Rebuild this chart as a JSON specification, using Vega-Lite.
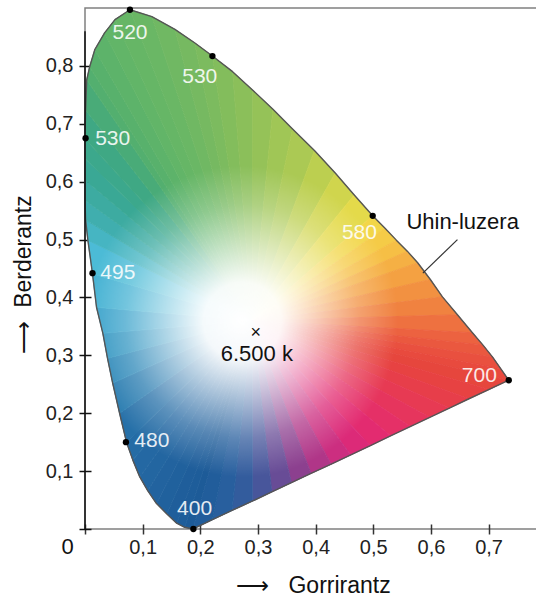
{
  "$schema": "https://vega.github.io/schema/vega-lite/v6.json",
  "autosize": {"type": "none"},
  "padding": {"left": 85, "top": 8, "right": 0, "bottom": 67},
  "width": 452,
  "height": 521,
  "config": {
    "view": {"stroke": "#808080", "strokeWidth": 1.5},
    "axis": {"labelFont": "Liberation Sans", "titleFont": "Liberation Sans", "labelColor": "#222", "titleColor": "#111", "titleFontWeight": "normal", "grid": false, "domain": false},
    "text": {"font": "Liberation Sans"}
  },
  "datasets": {
    "loc": [
      {"i":0,"x":0.187,"y":0.000},{"i":1,"x":0.173,"y":0.003},{"i":2,"x":0.159,"y":0.010},{"i":3,"x":0.142,"y":0.026},
      {"i":4,"x":0.124,"y":0.044},{"i":5,"x":0.109,"y":0.066},{"i":6,"x":0.095,"y":0.090},{"i":7,"x":0.083,"y":0.119},
      {"i":8,"x":0.072,"y":0.150},{"i":9,"x":0.060,"y":0.200},{"i":10,"x":0.048,"y":0.252},{"i":11,"x":0.039,"y":0.295},
      {"i":12,"x":0.031,"y":0.338},{"i":13,"x":0.020,"y":0.383},{"i":14,"x":0.013,"y":0.441},{"i":15,"x":0.005,"y":0.499},
      {"i":16,"x":0.001,"y":0.534},{"i":17,"x":0.000,"y":0.568},{"i":18,"x":0.000,"y":0.603},{"i":19,"x":0.000,"y":0.640},
      {"i":20,"x":0.000,"y":0.674},{"i":21,"x":0.001,"y":0.724},{"i":22,"x":0.003,"y":0.776},{"i":23,"x":0.008,"y":0.798},
      {"i":24,"x":0.017,"y":0.828},{"i":25,"x":0.034,"y":0.857},{"i":26,"x":0.052,"y":0.880},{"i":27,"x":0.078,"y":0.897},
      {"i":28,"x":0.116,"y":0.885},{"i":29,"x":0.156,"y":0.863},{"i":30,"x":0.190,"y":0.840},{"i":31,"x":0.221,"y":0.817},
      {"i":32,"x":0.256,"y":0.790},{"i":33,"x":0.291,"y":0.758},{"i":34,"x":0.326,"y":0.725},{"i":35,"x":0.360,"y":0.691},
      {"i":36,"x":0.398,"y":0.654},{"i":37,"x":0.434,"y":0.615},{"i":38,"x":0.467,"y":0.577},{"i":39,"x":0.499,"y":0.541},
      {"i":40,"x":0.520,"y":0.520},{"i":41,"x":0.540,"y":0.499},{"i":42,"x":0.559,"y":0.480},{"i":43,"x":0.577,"y":0.460},
      {"i":44,"x":0.599,"y":0.431},{"i":45,"x":0.620,"y":0.401},{"i":46,"x":0.646,"y":0.370},{"i":47,"x":0.672,"y":0.339},
      {"i":48,"x":0.690,"y":0.318},{"i":49,"x":0.707,"y":0.297},{"i":50,"x":0.721,"y":0.277},{"i":51,"x":0.735,"y":0.257},
      {"i":52,"x":0.701,"y":0.241},{"i":53,"x":0.666,"y":0.225},{"i":54,"x":0.632,"y":0.209},{"i":55,"x":0.598,"y":0.193},
      {"i":56,"x":0.564,"y":0.177},{"i":57,"x":0.530,"y":0.161},{"i":58,"x":0.495,"y":0.144},{"i":59,"x":0.461,"y":0.128},
      {"i":60,"x":0.427,"y":0.112},{"i":61,"x":0.392,"y":0.096},{"i":62,"x":0.358,"y":0.080},{"i":63,"x":0.324,"y":0.064},
      {"i":64,"x":0.290,"y":0.048},{"i":65,"x":0.255,"y":0.032},{"i":66,"x":0.221,"y":0.016},{"i":67,"x":0.187,"y":0.000}
    ],
    "sec": [
      {"s":0,"i":0,"x":0.29,"y":0.36},{"s":0,"i":1,"x":0.187,"y":0.000},{"s":0,"i":2,"x":0.173,"y":0.003},
      {"s":1,"i":0,"x":0.29,"y":0.36},{"s":1,"i":1,"x":0.173,"y":0.003},{"s":1,"i":2,"x":0.159,"y":0.010},
      {"s":2,"i":0,"x":0.29,"y":0.36},{"s":2,"i":1,"x":0.159,"y":0.010},{"s":2,"i":2,"x":0.142,"y":0.026},
      {"s":3,"i":0,"x":0.29,"y":0.36},{"s":3,"i":1,"x":0.142,"y":0.026},{"s":3,"i":2,"x":0.124,"y":0.044},
      {"s":4,"i":0,"x":0.29,"y":0.36},{"s":4,"i":1,"x":0.124,"y":0.044},{"s":4,"i":2,"x":0.109,"y":0.066},
      {"s":5,"i":0,"x":0.29,"y":0.36},{"s":5,"i":1,"x":0.109,"y":0.066},{"s":5,"i":2,"x":0.095,"y":0.090},
      {"s":6,"i":0,"x":0.29,"y":0.36},{"s":6,"i":1,"x":0.095,"y":0.090},{"s":6,"i":2,"x":0.083,"y":0.119},
      {"s":7,"i":0,"x":0.29,"y":0.36},{"s":7,"i":1,"x":0.083,"y":0.119},{"s":7,"i":2,"x":0.072,"y":0.150},
      {"s":8,"i":0,"x":0.29,"y":0.36},{"s":8,"i":1,"x":0.072,"y":0.150},{"s":8,"i":2,"x":0.060,"y":0.200},
      {"s":9,"i":0,"x":0.29,"y":0.36},{"s":9,"i":1,"x":0.060,"y":0.200},{"s":9,"i":2,"x":0.048,"y":0.252},
      {"s":10,"i":0,"x":0.29,"y":0.36},{"s":10,"i":1,"x":0.048,"y":0.252},{"s":10,"i":2,"x":0.039,"y":0.295},
      {"s":11,"i":0,"x":0.29,"y":0.36},{"s":11,"i":1,"x":0.039,"y":0.295},{"s":11,"i":2,"x":0.031,"y":0.338},
      {"s":12,"i":0,"x":0.29,"y":0.36},{"s":12,"i":1,"x":0.031,"y":0.338},{"s":12,"i":2,"x":0.020,"y":0.383},
      {"s":13,"i":0,"x":0.29,"y":0.36},{"s":13,"i":1,"x":0.020,"y":0.383},{"s":13,"i":2,"x":0.013,"y":0.441},
      {"s":14,"i":0,"x":0.29,"y":0.36},{"s":14,"i":1,"x":0.013,"y":0.441},{"s":14,"i":2,"x":0.005,"y":0.499},
      {"s":15,"i":0,"x":0.29,"y":0.36},{"s":15,"i":1,"x":0.005,"y":0.499},{"s":15,"i":2,"x":0.001,"y":0.534},
      {"s":16,"i":0,"x":0.29,"y":0.36},{"s":16,"i":1,"x":0.001,"y":0.534},{"s":16,"i":2,"x":0.000,"y":0.568},
      {"s":17,"i":0,"x":0.29,"y":0.36},{"s":17,"i":1,"x":0.000,"y":0.568},{"s":17,"i":2,"x":0.000,"y":0.603},
      {"s":18,"i":0,"x":0.29,"y":0.36},{"s":18,"i":1,"x":0.000,"y":0.603},{"s":18,"i":2,"x":0.000,"y":0.640},
      {"s":19,"i":0,"x":0.29,"y":0.36},{"s":19,"i":1,"x":0.000,"y":0.640},{"s":19,"i":2,"x":0.000,"y":0.674},
      {"s":20,"i":0,"x":0.29,"y":0.36},{"s":20,"i":1,"x":0.000,"y":0.674},{"s":20,"i":2,"x":0.001,"y":0.724},
      {"s":21,"i":0,"x":0.29,"y":0.36},{"s":21,"i":1,"x":0.001,"y":0.724},{"s":21,"i":2,"x":0.003,"y":0.776},
      {"s":22,"i":0,"x":0.29,"y":0.36},{"s":22,"i":1,"x":0.003,"y":0.776},{"s":22,"i":2,"x":0.008,"y":0.798},
      {"s":23,"i":0,"x":0.29,"y":0.36},{"s":23,"i":1,"x":0.008,"y":0.798},{"s":23,"i":2,"x":0.017,"y":0.828},
      {"s":24,"i":0,"x":0.29,"y":0.36},{"s":24,"i":1,"x":0.017,"y":0.828},{"s":24,"i":2,"x":0.034,"y":0.857},
      {"s":25,"i":0,"x":0.29,"y":0.36},{"s":25,"i":1,"x":0.034,"y":0.857},{"s":25,"i":2,"x":0.052,"y":0.880},
      {"s":26,"i":0,"x":0.29,"y":0.36},{"s":26,"i":1,"x":0.052,"y":0.880},{"s":26,"i":2,"x":0.078,"y":0.897},
      {"s":27,"i":0,"x":0.29,"y":0.36},{"s":27,"i":1,"x":0.078,"y":0.897},{"s":27,"i":2,"x":0.116,"y":0.885},
      {"s":28,"i":0,"x":0.29,"y":0.36},{"s":28,"i":1,"x":0.116,"y":0.885},{"s":28,"i":2,"x":0.156,"y":0.863},
      {"s":29,"i":0,"x":0.29,"y":0.36},{"s":29,"i":1,"x":0.156,"y":0.863},{"s":29,"i":2,"x":0.190,"y":0.840},
      {"s":30,"i":0,"x":0.29,"y":0.36},{"s":30,"i":1,"x":0.190,"y":0.840},{"s":30,"i":2,"x":0.221,"y":0.817},
      {"s":31,"i":0,"x":0.29,"y":0.36},{"s":31,"i":1,"x":0.221,"y":0.817},{"s":31,"i":2,"x":0.256,"y":0.790},
      {"s":32,"i":0,"x":0.29,"y":0.36},{"s":32,"i":1,"x":0.256,"y":0.790},{"s":32,"i":2,"x":0.291,"y":0.758},
      {"s":33,"i":0,"x":0.29,"y":0.36},{"s":33,"i":1,"x":0.291,"y":0.758},{"s":33,"i":2,"x":0.326,"y":0.725},
      {"s":34,"i":0,"x":0.29,"y":0.36},{"s":34,"i":1,"x":0.326,"y":0.725},{"s":34,"i":2,"x":0.360,"y":0.691},
      {"s":35,"i":0,"x":0.29,"y":0.36},{"s":35,"i":1,"x":0.360,"y":0.691},{"s":35,"i":2,"x":0.398,"y":0.654},
      {"s":36,"i":0,"x":0.29,"y":0.36},{"s":36,"i":1,"x":0.398,"y":0.654},{"s":36,"i":2,"x":0.434,"y":0.615},
      {"s":37,"i":0,"x":0.29,"y":0.36},{"s":37,"i":1,"x":0.434,"y":0.615},{"s":37,"i":2,"x":0.467,"y":0.577},
      {"s":38,"i":0,"x":0.29,"y":0.36},{"s":38,"i":1,"x":0.467,"y":0.577},{"s":38,"i":2,"x":0.499,"y":0.541},
      {"s":39,"i":0,"x":0.29,"y":0.36},{"s":39,"i":1,"x":0.499,"y":0.541},{"s":39,"i":2,"x":0.520,"y":0.520},
      {"s":40,"i":0,"x":0.29,"y":0.36},{"s":40,"i":1,"x":0.520,"y":0.520},{"s":40,"i":2,"x":0.540,"y":0.499},
      {"s":41,"i":0,"x":0.29,"y":0.36},{"s":41,"i":1,"x":0.540,"y":0.499},{"s":41,"i":2,"x":0.559,"y":0.480},
      {"s":42,"i":0,"x":0.29,"y":0.36},{"s":42,"i":1,"x":0.559,"y":0.480},{"s":42,"i":2,"x":0.577,"y":0.460},
      {"s":43,"i":0,"x":0.29,"y":0.36},{"s":43,"i":1,"x":0.577,"y":0.460},{"s":43,"i":2,"x":0.599,"y":0.431},
      {"s":44,"i":0,"x":0.29,"y":0.36},{"s":44,"i":1,"x":0.599,"y":0.431},{"s":44,"i":2,"x":0.620,"y":0.401},
      {"s":45,"i":0,"x":0.29,"y":0.36},{"s":45,"i":1,"x":0.620,"y":0.401},{"s":45,"i":2,"x":0.646,"y":0.370},
      {"s":46,"i":0,"x":0.29,"y":0.36},{"s":46,"i":1,"x":0.646,"y":0.370},{"s":46,"i":2,"x":0.672,"y":0.339},
      {"s":47,"i":0,"x":0.29,"y":0.36},{"s":47,"i":1,"x":0.672,"y":0.339},{"s":47,"i":2,"x":0.690,"y":0.318},
      {"s":48,"i":0,"x":0.29,"y":0.36},{"s":48,"i":1,"x":0.690,"y":0.318},{"s":48,"i":2,"x":0.707,"y":0.297},
      {"s":49,"i":0,"x":0.29,"y":0.36},{"s":49,"i":1,"x":0.707,"y":0.297},{"s":49,"i":2,"x":0.721,"y":0.277},
      {"s":50,"i":0,"x":0.29,"y":0.36},{"s":50,"i":1,"x":0.721,"y":0.277},{"s":50,"i":2,"x":0.735,"y":0.257},
      {"s":51,"i":0,"x":0.29,"y":0.36},{"s":51,"i":1,"x":0.735,"y":0.257},{"s":51,"i":2,"x":0.701,"y":0.241},
      {"s":52,"i":0,"x":0.29,"y":0.36},{"s":52,"i":1,"x":0.701,"y":0.241},{"s":52,"i":2,"x":0.666,"y":0.225},
      {"s":53,"i":0,"x":0.29,"y":0.36},{"s":53,"i":1,"x":0.666,"y":0.225},{"s":53,"i":2,"x":0.632,"y":0.209},
      {"s":54,"i":0,"x":0.29,"y":0.36},{"s":54,"i":1,"x":0.632,"y":0.209},{"s":54,"i":2,"x":0.598,"y":0.193},
      {"s":55,"i":0,"x":0.29,"y":0.36},{"s":55,"i":1,"x":0.598,"y":0.193},{"s":55,"i":2,"x":0.564,"y":0.177},
      {"s":56,"i":0,"x":0.29,"y":0.36},{"s":56,"i":1,"x":0.564,"y":0.177},{"s":56,"i":2,"x":0.530,"y":0.161},
      {"s":57,"i":0,"x":0.29,"y":0.36},{"s":57,"i":1,"x":0.530,"y":0.161},{"s":57,"i":2,"x":0.495,"y":0.144},
      {"s":58,"i":0,"x":0.29,"y":0.36},{"s":58,"i":1,"x":0.495,"y":0.144},{"s":58,"i":2,"x":0.461,"y":0.128},
      {"s":59,"i":0,"x":0.29,"y":0.36},{"s":59,"i":1,"x":0.461,"y":0.128},{"s":59,"i":2,"x":0.427,"y":0.112},
      {"s":60,"i":0,"x":0.29,"y":0.36},{"s":60,"i":1,"x":0.427,"y":0.112},{"s":60,"i":2,"x":0.392,"y":0.096},
      {"s":61,"i":0,"x":0.29,"y":0.36},{"s":61,"i":1,"x":0.392,"y":0.096},{"s":61,"i":2,"x":0.358,"y":0.080},
      {"s":62,"i":0,"x":0.29,"y":0.36},{"s":62,"i":1,"x":0.358,"y":0.080},{"s":62,"i":2,"x":0.324,"y":0.064},
      {"s":63,"i":0,"x":0.29,"y":0.36},{"s":63,"i":1,"x":0.324,"y":0.064},{"s":63,"i":2,"x":0.290,"y":0.048},
      {"s":64,"i":0,"x":0.29,"y":0.36},{"s":64,"i":1,"x":0.290,"y":0.048},{"s":64,"i":2,"x":0.255,"y":0.032},
      {"s":65,"i":0,"x":0.29,"y":0.36},{"s":65,"i":1,"x":0.255,"y":0.032},{"s":65,"i":2,"x":0.221,"y":0.016},
      {"s":66,"i":0,"x":0.29,"y":0.36},{"s":66,"i":1,"x":0.221,"y":0.016},{"s":66,"i":2,"x":0.187,"y":0.000}
    ],
    "dots": [
      {"x":0.078,"y":0.897},{"x":0.221,"y":0.817},{"x":0.001,"y":0.675},{"x":0.013,"y":0.442},
      {"x":0.071,"y":0.150},{"x":0.188,"y":0.0},{"x":0.499,"y":0.541},{"x":0.735,"y":0.257}
    ],
    "labs": [
      {"x":0.078,"y":0.857,"t":"520"},{"x":0.199,"y":0.781,"t":"530"},{"x":0.048,"y":0.674,"t":"530"},
      {"x":0.057,"y":0.442,"t":"495"},{"x":0.116,"y":0.152,"t":"480"},{"x":0.190,"y":0.034,"t":"400"},
      {"x":0.476,"y":0.511,"t":"580"},{"x":0.684,"y":0.264,"t":"700"}
    ],
    "ann": [
      {"x":0.655,"y":0.530,"t":"Uhin-luzera"},{"x":0.298,"y":0.302,"t":"6.500 k"},{"x":-0.030,"y":-0.031,"t":"0"}
    ],
    "cross": [{"x":0.296,"y":0.338,"t":"×"}],
    "lead": [{"x":0.646,"y":0.500,"x2":0.586,"y2":0.442}],
    "yline": [{"x":0,"y":0,"y2":0.86}]
  },
  "encoding": {
    "x": {"field": "x", "type": "quantitative", "scale": {"domain": [0, 0.784], "nice": false, "zero": false},
      "axis": {"values": [0,0.1,0.2,0.3,0.4,0.5,0.6,0.7], "labelExpr": "datum.value == 0 ? '' : replace(format(datum.value, '.1f'), '.', ',')",
        "offset": -5, "tickSize": 10, "tickColor": "#333", "tickWidth": 1.5, "labelFontSize": 20, "labelPadding": 3,
        "title": "⟶\u00a0\u00a0\u00a0Gorrirantz", "titleFontSize": 23, "titleX": 228, "titleY": 68, "titleAlign": "center", "titleBaseline": "alphabetic", "titleAnchor": null}},
    "y": {"field": "y", "type": "quantitative", "scale": {"domain": [0, 0.9], "nice": false, "zero": false},
      "axis": {"values": [0,0.1,0.2,0.3,0.4,0.5,0.6,0.7,0.8], "labelExpr": "datum.value == 0 ? '' : replace(format(datum.value, '.1f'), '.', ',')",
        "offset": -6, "tickSize": 12, "tickColor": "#111", "tickWidth": 1.5, "labelFontSize": 20, "labelPadding": 6,
        "title": "⟶\u00a0\u00a0Berderantz", "titleFontSize": 23, "titleAngle": 270, "titleX": -61, "titleY": 266, "titleAlign": "center", "titleBaseline": "alphabetic", "titleAnchor": null}}
  },
  "layer": [
    {
      "data": {"name": "sec"},
      "mark": {"type": "line", "filled": true, "strokeWidth": 1, "strokeJoin": "round"},
      "encoding": {
        "order": {"field": "i", "type": "quantitative"},
        "fill": {"field": "s", "type": "ordinal", "legend": null, "scale": {"type": "ordinal", "domain": [0,1,2,3,4,5,6,7,8,9,10,11,12,13,14,15,16,17,18,19,20,21,22,23,24,25,26,27,28,29,30,31,32,33,34,35,36,37,38,39,40,41,42,43,44,45,46,47,48,49,50,51,52,53,54,55,56,57,58,59,60,61,62,63,64,65,66],
          "range": ["#1d5b98","#1e5d9a","#1f5e9b","#20619d","#22639f","#2366a1","#2468a3","#256ca5","#2670a8","#297cb0","#2e89b9","#3497c2","#3ba3cb","#45b2d3","#4cbbd6","#46b5c2","#40aeae","#3daba1","#3aa895","#3ca88c","#3fa884","#49ab78","#53af6f","#58b16c","#5db36a","#62b568","#66b666","#6ab765","#70b863","#76b961","#7cbb5f","#83bd5c","#8bbf5a","#95c258","#a0c656","#abc954","#bccf50","#d0d54d","#e4da4a","#f2d648","#f5cb47","#f6bf45","#f5b044","#f4a142","#f29141","#f08240","#ee7140","#ec6240","#ea583f","#e9503f","#e84a3e","#e6463d","#e74242","#e73e4a","#e73a53","#e6355d","#e53067","#e32b70","#dc2a78","#cc2e80","#b03688","#8c408f","#684c96","#48569b","#335c9d","#285f9e","#215d9b"]}},
        "stroke": {"field": "s", "type": "ordinal", "legend": null, "scale": {"type": "ordinal", "domain": [0,1,2,3,4,5,6,7,8,9,10,11,12,13,14,15,16,17,18,19,20,21,22,23,24,25,26,27,28,29,30,31,32,33,34,35,36,37,38,39,40,41,42,43,44,45,46,47,48,49,50,51,52,53,54,55,56,57,58,59,60,61,62,63,64,65,66],
          "range": ["#1d5b98","#1e5d9a","#1f5e9b","#20619d","#22639f","#2366a1","#2468a3","#256ca5","#2670a8","#297cb0","#2e89b9","#3497c2","#3ba3cb","#45b2d3","#4cbbd6","#46b5c2","#40aeae","#3daba1","#3aa895","#3ca88c","#3fa884","#49ab78","#53af6f","#58b16c","#5db36a","#62b568","#66b666","#6ab765","#70b863","#76b961","#7cbb5f","#83bd5c","#8bbf5a","#95c258","#a0c656","#abc954","#bccf50","#d0d54d","#e4da4a","#f2d648","#f5cb47","#f6bf45","#f5b044","#f4a142","#f29141","#f08240","#ee7140","#ec6240","#ea583f","#e9503f","#e84a3e","#e6463d","#e74242","#e73e4a","#e73a53","#e6355d","#e53067","#e32b70","#dc2a78","#cc2e80","#b03688","#8c408f","#684c96","#48569b","#335c9d","#285f9e","#215d9b"]}}
      }
    },
    {
      "data": {"name": "loc"},
      "mark": {"type": "line", "stroke": "#555555", "strokeWidth": 1.4, "strokeJoin": "round",
        "fill": {"gradient": "radial", "x1": 0.395, "y1": 0.6, "r1": 0, "x2": 0.395, "y2": 0.6, "r2": 0.3,
          "stops": [{"offset": 0, "color": "rgba(255,255,255,1)"}, {"offset": 0.25, "color": "rgba(255,255,255,0.95)"}, {"offset": 0.5, "color": "rgba(255,255,255,0.6)"}, {"offset": 0.75, "color": "rgba(255,255,255,0.25)"}, {"offset": 1, "color": "rgba(255,255,255,0)"}]}},
      "encoding": {"order": {"field": "i", "type": "quantitative"}}
    },
    {
      "data": {"name": "yline"},
      "mark": {"type": "rule", "color": "#111", "strokeWidth": 1.5},
      "encoding": {"y2": {"field": "y2"}}
    },
    {
      "data": {"name": "lead"},
      "mark": {"type": "rule", "color": "#333", "strokeWidth": 1.2},
      "encoding": {"x2": {"field": "x2"}, "y2": {"field": "y2"}}
    },
    {
      "data": {"name": "dots"},
      "mark": {"type": "circle", "color": "#000", "size": 40, "opacity": 1}
    },
    {
      "data": {"name": "labs"},
      "mark": {"type": "text", "color": "#ffffff", "opacity": 0.88, "fontSize": 21, "align": "center", "baseline": "middle"},
      "encoding": {"text": {"field": "t"}}
    },
    {
      "data": {"name": "ann"},
      "mark": {"type": "text", "color": "#111", "fontSize": 22, "align": "center", "baseline": "middle", "clip": false},
      "encoding": {"text": {"field": "t"}}
    },
    {
      "data": {"name": "cross"},
      "mark": {"type": "text", "color": "#111", "fontSize": 18, "align": "center", "baseline": "middle"},
      "encoding": {"text": {"field": "t"}}
    }
  ]
}
